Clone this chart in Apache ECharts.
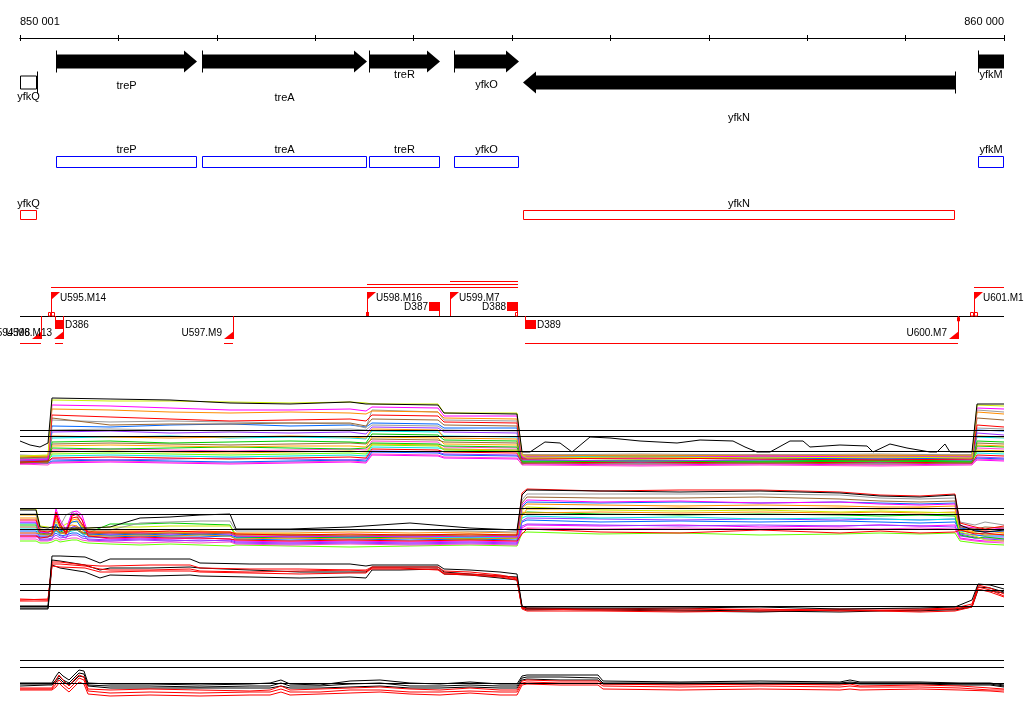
<!DOCTYPE html>
<html><head><meta charset="utf-8">
<script src="https://cdn.jsdelivr.net/npm/echarts@6/dist/echarts.min.js"></script>
<style>html,body{margin:0;padding:0;background:#fff}#c{width:1024px;height:714px}</style>
</head><body><div id="c"></div>
<script>
// ================= DATA =================
const AXIS_MIN = 850000, AXIS_MAX = 860000, TICK_STEP = 1000;
const rulerLabels = ['850 001', '860 000'];

// genes
const geneNames  = ['yfkQ', 'treP', 'treA', 'treR', 'yfkO', 'yfkN', 'yfkM'];
const geneStart  = [850000, 850366, 851850, 853547, 854411, 855112, 859736];
const geneEnd    = [850174, 851799, 853526, 854268, 855071, 859502, 860000];
const geneStrand = ['-', '+', '+', '+', '+', '-', '+'];

// regulatory features
const promUpNames = ['U595.M14', 'U598.M16', 'U599.M7', 'U601.M1'];
const promUpPos   = [850315, 853526, 854370, 859695];
const promDownNames = ['U594.M8', 'U596.M13', 'U597.M9', 'U600.M7'];
const promDownPos   = [850213, 850437, 852165, 859533];
const termUpNames = ['D387', 'D388'];
const termUpStart = [854157, 854949];
const termUpEnd   = [854268, 855061];
const termDownNames = ['D386', 'D389'];
const termDownStart = [850356, 855132];
const termDownEnd   = [850447, 855244];
const tuUpStart = [850315, 853526, 854370, 859695];
const tuUpEnd   = [855061, 855061, 855061, 860000];
const tuDownStart = [850000, 850356, 852074, 855132];
const tuDownEnd   = [850213, 850437, 852165, 859533];
const siteStart  = [850285, 850315, 855030, 859523, 859655, 859695];
const siteEnd    = [850315, 850356, 855061, 859543, 859695, 859736];
const siteStrand = ['+', '+', '+', '-', '+', '+'];
const siteFilledStart = [853516];
const siteFilledEnd   = [853547];

// ---- signal track A ----
const refA = [40, 34, 19];
const xA = [850000, 850285, 850325, 850915, 851524, 852134, 852744, 853354, 853516, 853577, 854248, 854309, 855051, 855102, 855152, 856301, 857520, 858740, 859675, 859726, 860000];
const aYellow  = [14,15,70,69,69,68,67,68,67,66,66,57,57,15,12,13,12,13,12,65,64];
const aMagenta = [10,11,65,64,62,60,60,61,59,63,62,54,54,13,13,12,14,13,13,62,61];
const aOrange  = [13,14,61,60,58,57,58,57,56,59,58,52,51,14,14,15,14,15,14,58,56];
const aRed     = [8,9,55,53,51,49,50,51,49,55,54,48,47,11,11,12,11,10,11,45,43];
const aBrown   = [12,13,52,45,46,46,47,47,44,51,50,45,44,15,15,14,15,14,15,52,50];
const aGray    = [11,12,50,48,49,48,47,46,42,60,58,50,49,14,13,13,13,14,13,60,58];
const aBlue    = [12,11,44,43,45,46,44,45,43,47,46,42,42,12,12,13,12,11,12,40,39];
const aGray2   = [15,14,40,41,40,39,40,41,40,45,44,40,39,15,15,16,15,16,15,42,41];
const aPurple  = [9,10,38,39,37,38,37,38,36,43,42,38,37,10,10,9,10,11,10,37,35];
const aOrange2 = [12,13,34,33,32,33,34,33,32,41,40,32,31,12,12,11,12,11,12,34,33];
const aCyan    = [13,12,32,33,34,32,33,32,31,39,38,34,33,14,13,14,13,14,13,33,32];
const aGreen   = [8,9,28,29,27,28,29,28,27,36,35,30,29,9,9,10,9,10,9,29,28];
const aBrown2  = [8,7,26,27,26,25,26,27,26,31,30,28,27,6,7,6,7,6,7,27,26];
const aGold    = [14,13,24,25,24,23,24,24,23,33,32,26,25,13,13,12,13,12,13,25,24];
const aGreen2  = [10,9,22,21,22,23,22,21,22,27,26,24,23,8,8,9,8,9,8,24,23];
const aPink    = [11,10,20,21,20,19,20,21,20,29,28,23,22,11,11,12,11,10,11,22,21];
const aGold2   = [13,12,18,19,18,17,18,19,18,26,25,21,20,13,12,13,12,13,12,20,19];
const aLime    = [9,8,16,17,16,15,16,17,16,25,24,20,19,9,8,9,8,9,8,19,18];
const aCyan2   = [9,10,14,15,14,13,14,15,14,23,22,21,20,10,10,9,10,9,10,17,16];
const aRed2    = [7,8,12,13,12,11,12,13,12,21,20,18,17,7,7,8,7,8,7,15,14];
const aPurple2 = [7,8,11,10,11,12,11,10,11,19,18,16,15,7,7,8,7,8,7,13,12];
const aBlue2   = [8,7,9,10,9,8,9,10,9,18,17,15,14,8,8,7,8,7,8,12,11];
const aPink2   = [6,5,8,9,8,7,8,9,8,16,15,13,12,5,5,4,5,4,5,11,10];
const aMagenta2= [6,7,7,8,7,6,7,8,7,15,14,12,11,6,6,5,6,5,6,10,9];
const xAk = [850000, 850102, 850203, 850285, 850325, 850915, 851524, 852134, 852744, 853354, 853516, 853577, 854248, 854309, 855051, 855102, 855183, 855335, 855488, 855610, 855793, 855996, 856301, 856677, 856911, 857246, 857368, 857490, 857622, 857825, 857957, 858028, 858333, 858608, 858669, 858841, 859014, 859248, 859319, 859400, 859451, 859553, 859675, 859726, 860000];
const aBlack = [29,25,23,27,72,71,70,67,66,68,66,66,65,57,56,18,18,28,27,18,33,32,29,27,30,29,23,18,18,29,29,23,25,24,18,26,22,18,18,26,18,18,18,66,66];

// ---- signal track B ----
const refB = [40, 34, 19];
const xB = [850000, 850163, 850203, 850285, 850325, 850366, 850407, 850467, 850528, 850579, 850630, 850691, 850915, 851220, 851524, 851829, 852134, 852195, 852744, 853354, 853963, 854573, 855051, 855102, 855152, 855894, 856707, 857520, 858333, 858740, 859146, 859502, 859553, 859705, 859807, 860000];
const bLime    = [7,7,5,5,6,8,6,7,8,8,6,5,4,3,4,3,2,3,2,1,2,3,2,15,16,14,15,13,14,15,14,15,7,5,4,3];
const bPink    = [9,9,7,7,8,10,8,9,10,10,8,7,6,5,6,5,6,4,3,4,3,4,3,18,20,19,20,19,20,19,20,19,9,7,6,5];
const bMagenta2= [11,11,12,12,13,34,25,13,34,35,29,12,9,10,9,10,9,7,6,7,6,7,6,20,23,22,23,21,22,23,22,23,10,8,7,7];
const bPurple  = [15,15,9,9,10,13,10,11,13,13,10,9,8,9,8,7,8,6,5,6,5,6,5,22,24,23,22,23,22,23,22,21,12,10,9,8];
const bBlue    = [17,17,11,11,12,15,12,13,15,15,12,11,11,12,11,11,12,9,8,9,8,9,8,26,28,26,27,26,27,26,25,26,15,13,12,12];
const bPurple2 = [13,13,8,8,9,19,13,10,21,22,15,8,7,8,7,8,7,5,4,5,4,5,4,27,30,29,28,29,28,29,28,29,14,11,10,10];
const bCyan    = [19,19,13,13,14,17,14,15,17,18,14,13,13,13,12,13,12,10,11,10,11,10,11,30,32,30,31,29,30,29,28,29,17,15,14,13];
const bGreen   = [23,23,15,14,15,20,16,18,19,20,16,15,24,24,25,24,23,11,10,11,10,9,10,34,36,34,33,34,33,32,33,32,13,10,11,9];
const bOrange2 = [15,15,14,13,12,21,15,14,19,20,16,13,12,13,12,13,12,9,10,9,10,9,10,36,35,36,35,36,35,36,35,36,18,15,13,14];
const bGold    = [33,33,18,17,16,30,22,17,28,29,22,16,15,16,15,16,15,12,12,13,12,13,12,32,39,39,40,39,40,39,40,39,19,16,17,15];
const bYellow  = [39,39,22,21,20,26,20,24,26,26,21,20,21,21,22,22,22,14,14,13,13,14,13,38,41,38,37,38,36,37,36,35,16,12,8,7];
const bOrange  = [30,30,19,18,17,23,18,20,23,22,18,17,17,17,16,17,16,15,15,16,15,16,15,40,44,43,42,43,42,41,41,42,19,18,17,16];
const bBlue2   = [25,25,16,15,14,24,17,19,26,27,19,14,13,14,13,14,13,11,12,11,12,11,12,41,46,45,46,45,46,45,44,45,20,18,16,17];
const bMagenta = [26,26,16,15,18,39,28,18,36,37,33,15,14,15,14,15,14,12,11,12,11,12,11,43,48,46,47,45,46,44,43,44,22,20,18,20];
const bBrown   = [21,21,14,14,15,18,15,16,18,18,15,14,15,14,15,14,15,13,13,12,13,12,13,45,51,50,50,51,49,47,46,47,21,19,21,20];
const bGray    = [34,34,18,17,18,28,22,33,36,33,23,18,18,25,26,27,27,17,17,18,18,17,16,48,54,54,54,54,53,50,49,50,26,23,26,23];
const bRed     = [12,12,10,11,14,36,24,14,32,34,28,12,10,11,10,10,9,8,7,8,7,8,7,14,19,16,15,18,15,17,15,16,18,14,15,13];
const bRed2    = [28,28,17,16,17,33,21,16,30,31,24,16,16,16,17,16,16,14,13,14,13,14,13,55,59,57,58,58,56,53,52,54,25,21,19,22];
const bBlack   = [38,38,21,20,21,21,20,20,20,20,20,20,21,30,31,33,34,19,19,21,25,20,18,53,58,57,56,57,55,52,51,53,23,17,16,18];

// ---- signal track C ----
const refC = [40, 34, 18];
const xC = [850000, 850285, 850325, 850407, 850661, 850813, 850915, 851321, 851728, 851829, 852337, 852845, 853354, 853516, 853577, 853862, 854248, 854309, 854573, 854878, 855051, 855102, 855152, 855894, 856707, 857520, 858333, 859146, 859502, 859675, 859736, 859858, 860000];
const cBlack1 = [18,18,68,68,67,61,65,65,65,61,60,60,60,58,59,59,59,55,54,52,50,18,16,16,16,17,15,16,17,24,40,39,35];
const cBlack2 = [16,16,64,63,59,54,56,56,57,56,54,52,52,52,57,57,57,52,50,48,47,17,15,14,13,12,14,13,15,18,37,36,32];
const cBlack3 = [15,15,59,56,52,46,49,48,49,48,47,46,47,46,54,54,55,50,49,46,44,16,14,15,14,13,12,14,14,17,34,33,31];
const cRed1   = [25,24,62,62,59,58,58,59,59,56,55,55,54,54,57,57,57,53,52,49,46,17,16,15,16,14,15,15,16,20,39,36,30];
const cRed2   = [23,23,60,60,58,55,54,54,55,53,52,53,54,53,55,55,55,51,50,48,45,16,15,14,14,15,13,14,15,18,37,34,28];
const cRed3   = [24,25,58,57,56,52,52,53,53,52,51,50,51,51,56,56,54,50,49,47,44,15,13,13,12,13,14,12,13,17,35,32,27];

// ---- signal track D ----
const refD = [40, 33, 17];
const xD = [850000, 850285, 850325, 850366, 850396, 850437, 850498, 850549, 850600, 850650, 850691, 850915, 851321, 851829, 852337, 852541, 852652, 852744, 853049, 853354, 853659, 853963, 854268, 854573, 854878, 855051, 855102, 855152, 855488, 855874, 855925, 856707, 857520, 858333, 858435, 858537, 859146, 859553, 859858, 860000];
const dBlack1 = [17,17,17,24,28,24,20,25,30,29,17,16,16,15,16,17,20,16,15,19,20,17,16,18,16,16,24,25,25,25,19,18,19,18,20,18,18,17,17,15];
const dBlack2 = [16,16,16,20,24,20,17,22,27,26,15,14,14,13,14,14,17,14,14,16,17,14,14,15,14,14,22,23,23,22,17,17,17,17,18,17,17,16,16,14];
const dBlack3 = [14,15,15,18,22,18,15,19,24,23,14,12,12,12,12,12,14,12,12,13,14,12,12,13,12,12,20,21,20,20,16,16,16,16,17,16,16,15,15,13];
const dRed1   = [12,12,12,20,25,20,14,20,25,23,11,10,11,10,9,10,14,10,11,12,13,11,10,12,10,10,19,20,19,19,16,15,16,15,16,14,15,14,12,11];
const dRed2   = [11,11,11,16,20,16,11,16,22,20,9,7,8,7,8,8,11,8,8,10,10,8,8,9,8,8,17,18,17,17,14,13,14,13,14,13,13,12,10,10];
const dRed3   = [10,10,10,13,17,13,8,13,18,16,6,4,5,4,5,5,8,5,6,7,8,6,5,7,5,5,15,16,15,15,11,10,11,10,11,10,11,10,9,8];

// ================= LAYOUT / STYLE =================
const FONT_GENE = '11px "Liberation Sans", Arial, sans-serif';
const FONT_REG = '10px "Liberation Sans", Arial, sans-serif';
const RED = '#ff0000', BLUE = '#0000ff', BLACK = '#000000';
const G = { fwdY: 61.5, revY: 82.5, shaft: 7, head: 11, headLen: 13, tick: 11,
  labelY: { yfkQ: 97, treP: 86, treA: 97.5, treR: 75, yfkO: 84.5, yfkN: 117.5, yfkM: 75 },
  blueTop: 156, blueH: 11, redTop: 210, redH: 9 };
const R = { base: 316, flagTop: 292, flagW: 9, flagH: 8, downBot: 339, upLabelY: 298, downLabelY: 333,
  tUpTop: 302, tDownTop: 320, tH: 9, tuUpY: 287.5, tuStep: 3, tuDownY: 343.5 };

function txt(text, x, y, align, va, font) {
  return { type: 'text', style: { text, x, y, align, verticalAlign: va, textAlign: align, textVerticalAlign: va, fill: BLACK, font } };
}
function seg(x1, y1, x2, y2, color) {
  return { type: 'line', shape: { x1, y1, x2, y2 }, style: { stroke: color, lineWidth: 1 } };
}
function X(api, v) { return Math.round(api.coord([v, 0])[0]); }

function renderGene(p, api) {
  const i = p.dataIndex;
  const a = X(api, geneStart[i]), b = X(api, geneEnd[i]);
  const fwd = geneStrand[i] === '+';
  const yc = fwd ? G.fwdY : G.revY;
  const sh = G.shaft, hh = G.head, hl = G.headLen;
  const openStart = geneStart[i] <= AXIS_MIN, openEnd = geneEnd[i] >= AXIS_MAX;
  const ch = [];
  if (!fwd && openStart) {
    ch.push({ type: 'rect', shape: { x: a + 0.5, y: yc - sh + 0.5, width: b - a - 1, height: 2 * sh - 1 }, style: { fill: '#fff', stroke: BLACK, lineWidth: 1 } });
  } else {
    let pts;
    if (fwd) pts = openEnd ? [[a, yc - sh], [b, yc - sh], [b, yc + sh], [a, yc + sh]]
      : [[a, yc - sh], [b - hl, yc - sh], [b - hl, yc - hh], [b, yc], [b - hl, yc + hh], [b - hl, yc + sh], [a, yc + sh]];
    else pts = [[b, yc - sh], [a + hl, yc - sh], [a + hl, yc - hh], [a, yc], [a + hl, yc + hh], [a + hl, yc + sh], [b, yc + sh]];
    ch.push({ type: 'polygon', shape: { points: pts }, style: { fill: BLACK } });
  }
  const tx = fwd ? a : b;
  if (!(fwd ? openStart : openEnd)) ch.push(seg(tx + 0.5, yc - G.tick, tx + 0.5, yc + G.tick, BLACK));
  ch.push(txt(geneNames[i], (a + b) / 2, G.labelY[geneNames[i]], 'center', 'middle', FONT_GENE));
  return { type: 'group', children: ch };
}
function renderGeneBox(p, api) {
  const i = p.dataIndex;
  const a = X(api, geneStart[i]), b = X(api, geneEnd[i]);
  const fwd = geneStrand[i] === '+';
  const top = fwd ? G.blueTop : G.redTop, h = fwd ? G.blueH : G.redH;
  const col = fwd ? BLUE : RED;
  return { type: 'group', children: [
    { type: 'rect', shape: { x: a + 0.5, y: top + 0.5, width: b - a - 1, height: h }, style: { fill: 'none', stroke: col, lineWidth: 1 } },
    txt(geneNames[i], (a + b) / 2, top - 6.5, 'center', 'middle', FONT_GENE)
  ] };
}
function renderBase(p, api) {
  return seg(X(api, AXIS_MIN), R.base + 0.5, X(api, AXIS_MAX), R.base + 0.5, BLACK);
}
function renderPromUp(p, api) {
  const i = p.dataIndex, x = X(api, promUpPos[i]);
  return { type: 'group', children: [
    seg(x + 0.5, R.base, x + 0.5, R.flagTop, RED),
    { type: 'polygon', shape: { points: [[x, R.flagTop], [x + R.flagW, R.flagTop], [x, R.flagTop + R.flagH]] }, style: { fill: RED } },
    txt(promUpNames[i], x + R.flagW, R.upLabelY, 'left', 'middle', FONT_REG)
  ] };
}
function renderPromDown(p, api) {
  const i = p.dataIndex, x = X(api, promDownPos[i]);
  return { type: 'group', children: [
    seg(x + 0.5, R.base, x + 0.5, R.downBot, RED),
    { type: 'polygon', shape: { points: [[x + 1, R.downBot], [x - R.flagW, R.downBot], [x + 1, R.downBot - R.flagH]] }, style: { fill: RED } },
    txt(promDownNames[i], x - 11, R.downLabelY, 'right', 'middle', FONT_REG)
  ] };
}
function renderTermUp(p, api) {
  const i = p.dataIndex, a = X(api, termUpStart[i]), b = X(api, termUpEnd[i]);
  return { type: 'group', children: [
    { type: 'rect', shape: { x: a, y: R.tUpTop, width: b - a, height: R.tH }, style: { fill: RED } },
    seg(b - 0.5, R.tUpTop, b - 0.5, R.base, RED),
    txt(termUpNames[i], a - 1, R.tUpTop + 5, 'right', 'middle', FONT_REG)
  ] };
}
function renderTermDown(p, api) {
  const i = p.dataIndex, a = X(api, termDownStart[i]), b = X(api, termDownEnd[i]);
  return { type: 'group', children: [
    { type: 'rect', shape: { x: a, y: R.tDownTop, width: b - a, height: R.tH }, style: { fill: RED } },
    seg(a + 0.5, R.base, a + 0.5, R.tDownTop + R.tH, RED),
    txt(termDownNames[i], b + 1, R.tDownTop + 5, 'left', 'middle', FONT_REG)
  ] };
}
const tuUpLevel = tuUpStart.map((s, i) => tuUpStart.filter((s2, j) => j < i && s2 < tuUpEnd[i] && tuUpEnd[j] > s).length);
function renderTuUp(p, api) {
  const i = p.dataIndex, y = R.tuUpY - tuUpLevel[i] * R.tuStep;
  return seg(X(api, tuUpStart[i]), y, X(api, tuUpEnd[i]), y, RED);
}
function renderTuDown(p, api) {
  const i = p.dataIndex;
  return seg(X(api, tuDownStart[i]), R.tuDownY, X(api, tuDownEnd[i]), R.tuDownY, RED);
}
function renderSite(p, api) {
  const i = p.dataIndex, a = X(api, siteStart[i]), b = X(api, siteEnd[i]);
  const y = siteStrand[i] === '+' ? R.base - 4 : R.base + 1;
  return { type: 'rect', shape: { x: a + 0.5, y: y + 0.5, width: Math.max(b - a - 1, 2), height: 3.5 }, style: { fill: '#fff', stroke: RED, lineWidth: 1 } };
}
function renderSiteFilled(p, api) {
  const i = p.dataIndex, a = X(api, siteFilledStart[i]), b = X(api, siteFilledEnd[i]);
  return { type: 'rect', shape: { x: a, y: R.base - 4, width: Math.max(b - a, 2), height: 4 }, style: { fill: RED } };
}

// ================= CHART =================
const chart = echarts.init(document.getElementById('c'), null, { renderer: 'canvas' });
const series = [];
function custom(data, fn) {
  series.push({ type: 'custom', xAxisIndex: 0, yAxisIndex: 0, renderItem: fn, data: data.map((d, i) => [d, 0, i]),
    encode: { x: 0, y: 1 }, clip: false, silent: true, animation: false, z: 3 });
}
custom(geneStart, renderGene);
custom(geneStart, renderGeneBox);
custom([AXIS_MIN], renderBase);
custom(tuUpStart, renderTuUp);
custom(tuDownStart, renderTuDown);
custom(siteStart, renderSite);
custom(siteFilledStart, renderSiteFilled);
custom(termUpStart, renderTermUp);
custom(termDownStart, renderTermDown);
custom(promUpPos, renderPromUp);
custom(promDownPos, renderPromDown);

function addLine(grid, xs, ys, color, refs) {
  const s = { type: 'line', xAxisIndex: grid, yAxisIndex: grid, data: xs.map((x, i) => [x, ys[i]]),
    showSymbol: false, symbol: 'none', lineStyle: { color, width: 1 }, itemStyle: { color },
    silent: true, animation: false, z: 2 };
  if (refs) s.markLine = { silent: true, symbol: 'none', label: { show: false }, animation: false,
    lineStyle: { color: BLACK, width: 1, type: 'solid' }, data: refs.map(v => ({ yAxis: v })) };
  series.push(s);
}
const C = { yellow: '#ccee00', magenta: '#ff00ff', orange: '#ff8c00', red: '#ff0000', brown: '#996633', gray: '#999999',
  blue: '#0066ff', purple: '#9933ff', cyan: '#00e5e5', green: '#00cc00', gold: '#ffaa00', pink: '#ff44cc', lime: '#66ff00' };
// track A
[[aMagenta2, C.magenta], [aPink2, C.pink], [aBlue2, C.blue], [aPurple2, C.purple], [aRed2, C.red], [aCyan2, C.cyan],
 [aLime, C.lime], [aGold2, C.gold], [aPink, C.pink], [aGreen2, C.green], [aGold, C.gold], [aBrown2, C.brown],
 [aGreen, C.green], [aCyan, C.cyan], [aOrange2, C.orange], [aPurple, C.purple], [aGray2, C.gray], [aBlue, C.blue],
 [aGray, C.gray], [aBrown, C.brown], [aRed, C.red], [aOrange, C.orange], [aMagenta, C.magenta], [aYellow, C.yellow]]
  .forEach(d => addLine(1, xA, d[0], d[1]));
addLine(1, xAk, aBlack, BLACK, refA);
// track B
[[bLime, C.lime], [bPink, C.pink], [bMagenta2, C.magenta], [bPurple, C.purple], [bBlue, C.blue], [bPurple2, C.purple],
 [bCyan, C.cyan], [bGreen, C.green], [bOrange2, C.orange], [bGold, C.gold], [bYellow, C.yellow], [bOrange, C.orange],
 [bBlue2, C.blue], [bMagenta, C.magenta], [bBrown, C.brown], [bGray, C.gray], [bRed, C.red], [bRed2, C.red]]
  .forEach(d => addLine(2, xB, d[0], d[1]));
addLine(2, xB, bBlack, BLACK, refB);
// track C
addLine(3, xC, cBlack3, BLACK); addLine(3, xC, cBlack2, BLACK); addLine(3, xC, cRed3, C.red);
addLine(3, xC, cRed2, C.red); addLine(3, xC, cRed1, C.red); addLine(3, xC, cBlack1, BLACK, refC);
// track D
addLine(4, xD, dBlack3, BLACK); addLine(4, xD, dBlack2, BLACK); addLine(4, xD, dRed3, C.red);
addLine(4, xD, dRed2, C.red); addLine(4, xD, dRed1, C.red); addLine(4, xD, dBlack1, BLACK, refD);

// grids: 0 features, 1-4 signal tracks, 5 ruler (lower ticks), 6 ruler (upper ticks + labels)
const trackGrids = [[390, 80], [468, 80], [544, 80], [620, 80]];
const grids = [{ left: 20, right: 20, top: 45, height: 310 }]
  .concat(trackGrids.map(t => ({ left: 20, right: 20, top: t[0], height: t[1] })))
  .concat([{ left: 20, right: 20, top: 35, height: 3 }, { left: 20, right: 20, top: 38, height: 3 }]);
const hiddenX = k => ({ gridIndex: k, type: 'value', min: AXIS_MIN, max: AXIS_MAX, show: false });
const xAxes = [hiddenX(0), hiddenX(1), hiddenX(2), hiddenX(3), hiddenX(4),
  { gridIndex: 5, type: 'value', position: 'bottom', min: AXIS_MIN, max: AXIS_MAX, interval: TICK_STEP,
    axisLine: { show: true, onZero: false, lineStyle: { color: BLACK, width: 1 } },
    axisTick: { show: true, length: 3, inside: false, lineStyle: { color: BLACK } },
    axisLabel: { show: false }, splitLine: { show: false } },
  { gridIndex: 6, type: 'value', position: 'top', min: AXIS_MIN, max: AXIS_MAX, interval: TICK_STEP,
    axisLine: { show: true, onZero: false, lineStyle: { color: BLACK, width: 1 } },
    axisTick: { show: true, length: 3, inside: false, lineStyle: { color: BLACK } },
    splitLine: { show: false },
    axisLabel: { show: true, margin: 11, color: BLACK, fontSize: 11, fontFamily: 'Liberation Sans',
      showMinLabel: true, showMaxLabel: true, alignMinLabel: 'left', alignMaxLabel: 'right',
      formatter: v => v === AXIS_MIN ? rulerLabels[0] : (v === AXIS_MAX ? rulerLabels[1] : '') } }
];
const yAxes = [{ gridIndex: 0, type: 'value', min: 0, max: 1, show: false }]
  .concat(trackGrids.map((t, k) => ({ gridIndex: k + 1, type: 'value', min: 0, max: 80, show: false })))
  .concat([{ gridIndex: 5, type: 'value', min: 0, max: 1, show: false }, { gridIndex: 6, type: 'value', min: 0, max: 1, show: false }]);

chart.setOption({
  backgroundColor: '#ffffff',
  animation: false,
  grid: grids,
  xAxis: xAxes,
  yAxis: yAxes,
  series
});
</script>
</body></html>
